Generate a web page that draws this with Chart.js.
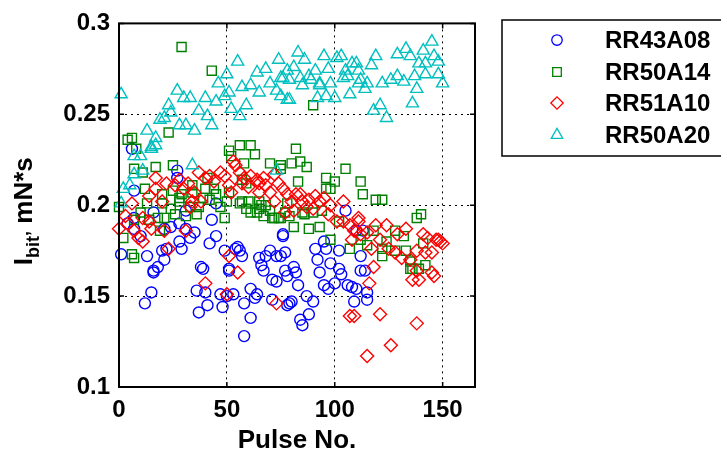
<!DOCTYPE html>
<html>
<head>
<meta charset="utf-8">
<script src="https://cdn.jsdelivr.net/npm/chart.js@4.4.1/dist/chart.umd.min.js"></script>
<style>
html,body{margin:0;padding:0;background:#fff;}
#wrap{width:721px;height:451px;}
</style>
</head>
<body>
<div id="wrap"><canvas id="c" width="721" height="451"></canvas></div>
<script>
// ---- data ----
const seriesNames = ['RR43A08', 'RR50A14', 'RR51A10', 'RR50A20'];
const xTicks = [0, 50, 100, 150];
const yTicks = [0.1, 0.15, 0.2, 0.25, 0.3];

const rr43a08X = [1,4,6,7,7,7,10,12,13,15,16,16,16,18,20,21,21,22,24,27,27,28,28,29,31,31,33,35,36,37,38,39,40,41,42,43,45,45,47,48,49,50,51,51,53,54,55,56,57,58,58,61,61,63,64,65,66,67,68,70,71,71,73,73,75,76,76,77,77,78,78,79,80,81,82,83,84,85,87,88,90,91,92,93,95,95,96,97,98,100,102,102,103,105,106,108,109,110,110,112,112,113,115,115,114];
const rr43a08Y = [0.173,0.190,0.231,0.208,0.193,0.187,0.183,0.146,0.172,0.152,0.163,0.196,0.164,0.166,0.175,0.170,0.187,0.176,0.188,0.219,0.215,0.190,0.180,0.176,0.197,0.187,0.182,0.185,0.153,0.141,0.166,0.165,0.152,0.145,0.179,0.192,0.201,0.183,0.151,0.144,0.175,0.150,0.165,0.164,0.151,0.176,0.177,0.175,0.172,0.146,0.128,0.138,0.154,0.149,0.151,0.171,0.167,0.164,0.172,0.175,0.159,0.148,0.172,0.158,0.172,0.183,0.184,0.174,0.164,0.161,0.145,0.146,0.147,0.166,0.163,0.156,0.137,0.134,0.150,0.140,0.147,0.176,0.170,0.163,0.180,0.156,0.176,0.154,0.168,0.157,0.175,0.165,0.162,0.197,0.156,0.155,0.147,0.154,0.186,0.172,0.164,0.186,0.148,0.152,0.164];

const rr50a14X = [0,2,4,6,6,7,7,7,8,10,11,12,13,14,17,18,19,20,20,21,23,24,25,25,26,28,28,29,29,31,33,34,34,36,37,39,40,41,42,43,44,45,47,49,50,51,51,52,56,56,57,57,58,59,59,60,61,61,63,64,65,65,66,67,68,70,70,71,72,74,75,75,75,77,78,79,80,81,82,83,84,85,86,87,88,90,90,93,94,96,96,98,98,100,102,105,107,112,112,113,115,118,119,122,122,122,124,128,128,132,133,135,135,136,138,139,140,141,142];
const rr50a14Y = [0.199,0.182,0.236,0.237,0.173,0.171,0.220,0.192,0.231,0.196,0.218,0.209,0.201,0.192,0.221,0.193,0.186,0.201,0.206,0.193,0.240,0.198,0.222,0.208,0.195,0.202,0.204,0.287,0.206,0.194,0.199,0.207,0.211,0.195,0.199,0.204,0.209,0.215,0.203,0.274,0.209,0.206,0.199,0.193,0.202,0.207,0.230,0.227,0.233,0.201,0.214,0.202,0.223,0.212,0.198,0.202,0.233,0.196,0.228,0.196,0.198,0.202,0.200,0.194,0.200,0.223,0.197,0.193,0.193,0.193,0.222,0.220,0.193,0.196,0.201,0.194,0.223,0.188,0.231,0.213,0.224,0.196,0.195,0.221,0.187,0.255,0.196,0.188,0.197,0.215,0.209,0.209,0.181,0.213,0.191,0.220,0.176,0.213,0.181,0.206,0.178,0.186,0.203,0.203,0.172,0.176,0.180,0.186,0.175,0.183,0.175,0.169,0.165,0.165,0.193,0.165,0.195,0.179,0.167];

const rr51a10X = [0,3,4,6,7,9,11,11,14,14,15,17,17,20,21,22,23,26,28,30,31,32,33,34,35,37,38,40,40,42,44,47,49,50,51,51,52,53,54,55,56,57,58,60,61,64,65,65,67,68,70,72,72,73,74,76,77,78,80,81,82,84,85,87,88,90,91,93,95,97,98,101,104,104,107,107,108,109,109,111,111,112,115,115,116,117,118,119,121,121,124,125,126,128,129,131,133,135,136,138,138,138,139,141,142,143,145,145,146,147,148,149,150];
const rr51a10Y = [0.187,0.194,0.190,0.201,0.186,0.182,0.180,0.193,0.191,0.205,0.187,0.215,0.209,0.202,0.186,0.212,0.176,0.211,0.214,0.209,0.186,0.212,0.199,0.202,0.207,0.218,0.202,0.215,0.157,0.216,0.213,0.218,0.216,0.151,0.211,0.172,0.207,0.224,0.222,0.163,0.218,0.212,0.215,0.210,0.216,0.214,0.212,0.207,0.215,0.211,0.207,0.217,0.202,0.146,0.212,0.209,0.196,0.206,0.202,0.197,0.206,0.206,0.202,0.199,0.203,0.198,0.205,0.202,0.204,0.195,0.200,0.191,0.202,0.191,0.189,0.139,0.181,0.186,0.139,0.191,0.193,0.184,0.185,0.117,0.157,0.176,0.166,0.189,0.181,0.140,0.189,0.176,0.123,0.174,0.184,0.171,0.187,0.170,0.159,0.175,0.164,0.135,0.159,0.184,0.174,0.182,0.174,0.163,0.161,0.181,0.181,0.180,0.179];

const rr50a20X = [1,1,2,5,7,7,10,11,13,15,15,17,17,19,21,23,24,27,28,30,31,33,34,35,37,40,41,43,45,46,49,50,51,52,55,56,57,59,61,64,65,68,70,73,73,74,75,75,76,78,78,79,79,81,83,84,85,86,88,89,91,92,93,93,95,96,97,98,100,101,103,104,105,106,107,108,110,111,111,112,114,115,117,118,119,121,122,124,126,129,129,132,133,135,136,137,138,139,141,142,142,145,146,148,148,150];
const rr50a20Y = [0.261,0.201,0.209,0.211,0.217,0.227,0.227,0.219,0.241,0.232,0.231,0.237,0.233,0.247,0.248,0.255,0.251,0.263,0.244,0.259,0.244,0.259,0.222,0.241,0.252,0.259,0.249,0.244,0.257,0.267,0.260,0.272,0.262,0.253,0.279,0.249,0.265,0.255,0.266,0.273,0.262,0.275,0.267,0.263,0.219,0.280,0.270,0.260,0.270,0.258,0.274,0.269,0.258,0.276,0.284,0.270,0.266,0.280,0.271,0.269,0.274,0.259,0.267,0.266,0.282,0.260,0.275,0.267,0.259,0.281,0.282,0.270,0.274,0.271,0.261,0.278,0.278,0.274,0.267,0.269,0.264,0.267,0.277,0.252,0.282,0.255,0.267,0.248,0.269,0.271,0.283,0.268,0.286,0.282,0.256,0.271,0.264,0.278,0.285,0.272,0.278,0.290,0.282,0.279,0.272,0.267];

// ---- styling ----
const FONT = "'Liberation Sans', Arial, sans-serif";
const colors = ['#0000ff', '#008000', '#ff0000', '#00bfbf'];
const styles = ['circle', 'rect', 'rectRot', 'triangle'];
const radii = [5.5, 6.4, 6.5, 7];

function pts(xs, ys) { return xs.map((v, i) => ({x: v, y: ys[i]})); }
const allX = [rr43a08X, rr50a14X, rr51a10X, rr50a20X];
const allY = [rr43a08Y, rr50a14Y, rr51a10Y, rr50a20Y];

const datasets = seriesNames.map((name, i) => ({
  label: name,
  data: pts(allX[i], allY[i]),
  pointStyle: styles[i],
  pointRadius: radii[i],
  pointHoverRadius: radii[i],
  pointBorderColor: colors[i],
  pointBackgroundColor: 'rgba(0,0,0,0)',
  pointBorderWidth: 1.4,
  showLine: false,
  clip: false,
  order: 4 - i
}));

function drawMarker(ctx, style, x, y, r) {
  ctx.beginPath();
  if (style === 'circle') {
    ctx.arc(x, y, r, 0, Math.PI * 2);
  } else if (style === 'rect') {
    const s = Math.SQRT1_2 * r;
    ctx.rect(x - s, y - s, 2 * s, 2 * s);
  } else if (style === 'rectRot') {
    ctx.moveTo(x - r, y); ctx.lineTo(x, y - r); ctx.lineTo(x + r, y); ctx.lineTo(x, y + r); ctx.closePath();
  } else {
    const a = 2 * Math.PI / 3;
    ctx.moveTo(x, y - r);
    ctx.lineTo(x + Math.sin(a) * r, y - Math.cos(a) * r);
    ctx.lineTo(x + Math.sin(2 * a) * r, y - Math.cos(2 * a) * r);
    ctx.closePath();
  }
  ctx.stroke();
}

const framePlugin = {
  id: 'frame',
  afterDraw(chart) {
    const ctx = chart.ctx;
    const a = chart.chartArea;
    const xs = chart.scales.x, ys = chart.scales.y;
    ctx.save();
    // axes box
    ctx.strokeStyle = '#000';
    ctx.lineWidth = 2;
    ctx.strokeRect(a.left, a.top, a.right - a.left, a.bottom - a.top);
    // inward tick marks
    ctx.lineWidth = 1.5;
    const tl = 5;
    ctx.beginPath();
    xs.ticks.forEach(t => {
      const p = xs.getPixelForValue(t.value);
      ctx.moveTo(p, a.bottom); ctx.lineTo(p, a.bottom - tl);
      ctx.moveTo(p, a.top); ctx.lineTo(p, a.top + tl);
    });
    ys.ticks.forEach(t => {
      const p = ys.getPixelForValue(t.value);
      ctx.moveTo(a.left, p); ctx.lineTo(a.left + tl, p);
      ctx.moveTo(a.right, p); ctx.lineTo(a.right - tl, p);
    });
    ctx.stroke();

    // x title
    ctx.fillStyle = '#000';
    ctx.font = 'bold 26px ' + FONT;
    ctx.textAlign = 'center';
    ctx.textBaseline = 'alphabetic';
    ctx.fillText('Pulse No.', (a.left + a.right) / 2, 448);

    // y title with subscript
    const mainFont = 'bold 26px ' + FONT;
    const subFont = 'bold 18px ' + FONT;
    const parts = [
      {t: 'I', f: mainFont, dy: 0},
      {t: 'bit\u2019', f: subFont, dy: 7},
      {t: ' mN*s', f: mainFont, dy: 0}
    ];
    let total = 0;
    parts.forEach(p => { ctx.font = p.f; p.w = ctx.measureText(p.t).width; total += p.w; });
    ctx.translate(32, (a.top + a.bottom) / 2 + 6);
    ctx.rotate(-Math.PI / 2);
    ctx.textAlign = 'left';
    let cx = -total / 2;
    parts.forEach(p => { ctx.font = p.f; ctx.fillText(p.t, cx, p.dy); cx += p.w; });
    ctx.setTransform(1, 0, 0, 1, 0, 0);

    // legend
    ctx.lineWidth = 1.5;
    ctx.strokeStyle = '#000';
    ctx.strokeRect(502, 20, 240, 136);
    const rows = [40, 72, 103, 135];
    ctx.font = 'bold 24px ' + FONT;
    ctx.textAlign = 'left';
    ctx.textBaseline = 'middle';
    seriesNames.forEach((n, i) => {
      ctx.strokeStyle = colors[i];
      ctx.lineWidth = 1.3;
      drawMarker(ctx, styles[i], 557, rows[i], radii[i] * 0.95);
      ctx.fillStyle = '#000';
      ctx.fillText(n, 605, rows[i] + 1);
    });
    ctx.restore();
  }
};

new Chart(document.getElementById('c'), {
  type: 'scatter',
  data: { datasets },
  options: {
    responsive: false,
    animation: false,
    devicePixelRatio: 1,
    layout: { padding: { left: 0, top: 20, right: 246, bottom: 0 } },
    plugins: { legend: { display: false }, tooltip: { enabled: false } },
    scales: {
      x: {
        type: 'linear', min: 0, max: 165,
        afterBuildTicks: s => { s.ticks = xTicks.map(v => ({value: v})); },
        afterFit: s => { s.height = 64; },
        ticks: { color: '#000', font: { family: FONT, size: 24, weight: 'bold' }, padding: 9, maxRotation: 0,
                 callback: v => String(v) },
        grid: { drawTicks: false, lineWidth: 1,
                color: c => (c.tick && (c.tick.value === 0 || c.tick.value === 165)) ? 'rgba(0,0,0,0)' : '#000' },
        border: { display: false, dash: [2, 4] }
      },
      y: {
        type: 'linear', min: 0.1, max: 0.3,
        afterBuildTicks: s => { s.ticks = yTicks.map(v => ({value: v})); },
        afterFit: s => { s.width = 119; },
        ticks: { color: '#000', font: { family: FONT, size: 24, weight: 'bold' }, padding: 9,
                 callback: v => String(Number(v.toFixed(2))) },
        grid: { drawTicks: false, lineWidth: 1,
                color: c => (c.tick && (Math.abs(c.tick.value - 0.1) < 1e-9 || Math.abs(c.tick.value - 0.3) < 1e-9)) ? 'rgba(0,0,0,0)' : '#000' },
        border: { display: false, dash: [2, 4] }
      }
    }
  },
  plugins: [framePlugin]
});
</script>
</body>
</html>
